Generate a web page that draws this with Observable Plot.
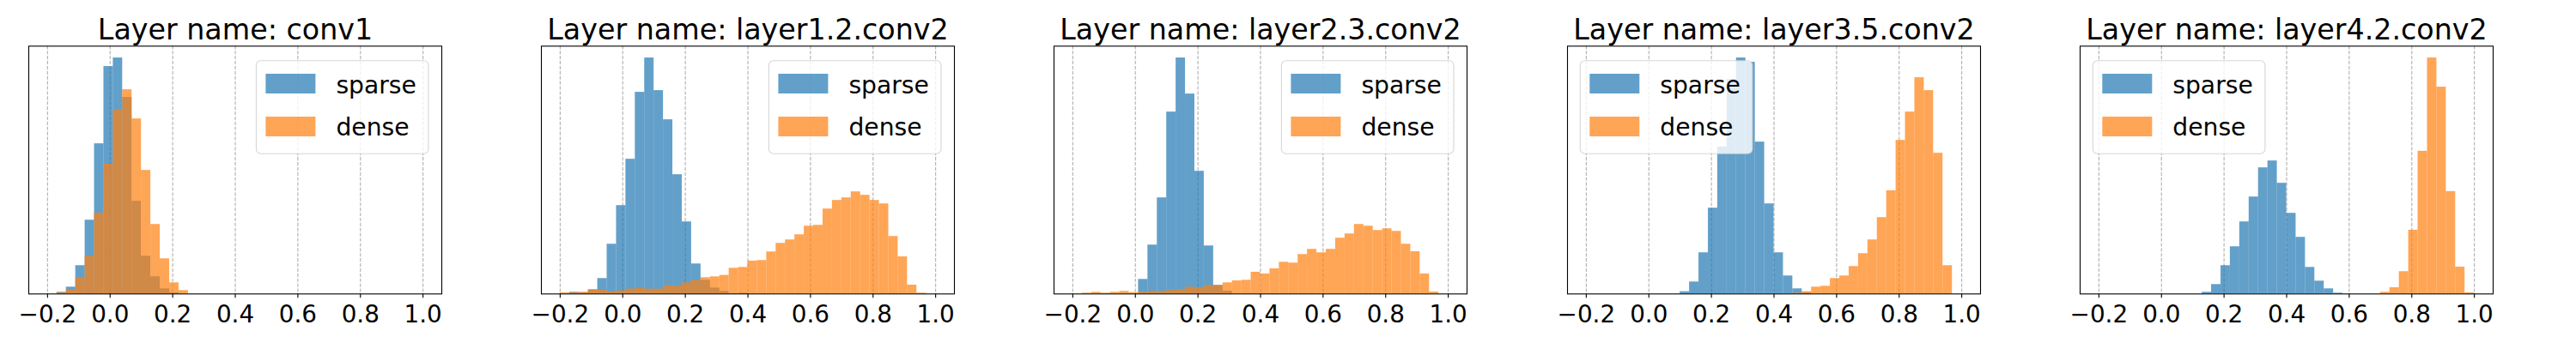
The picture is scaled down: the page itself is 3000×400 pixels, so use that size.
<!DOCTYPE html>
<html><head><meta charset="utf-8">
<script src="https://cdn.jsdelivr.net/npm/d3@7"></script>
<script src="https://cdn.jsdelivr.net/npm/@observablehq/plot@0.6"></script>
<style>
body{margin:0;background:#fff;}
#chart{position:relative;width:3000px;height:400px;font-family:"DejaVu Sans",sans-serif;}
#chart svg{position:absolute;top:0;}
</style></head><body><div id="chart"></div>
<script>
// ---- data ----
const layerNames = ["conv1", "layer1.2.conv2", "layer2.3.conv2", "layer3.5.conv2", "layer4.2.conv2"];
const seriesNames = ["sparse", "dense"];
const seriesColors = ["#1f77b4", "#ff7f0e"];
const xTicks = [-0.2, 0.0, 0.2, 0.4, 0.6, 0.8, 1.0];
const binEdges = [-0.2, -0.17, -0.14, -0.11, -0.08, -0.05, -0.02, 0.01, 0.04, 0.07,
  0.10, 0.13, 0.16, 0.19, 0.22, 0.25, 0.28, 0.31, 0.34, 0.37,
  0.40, 0.43, 0.46, 0.49, 0.52, 0.55, 0.58, 0.61, 0.64, 0.67,
  0.70, 0.73, 0.76, 0.79, 0.82, 0.85, 0.88, 0.91, 0.94, 0.97, 1.0];
const legendCorner = ["right", "right", "right", "left", "left"];

const sparseConv1 = [0,6,24,99,258,525,795,825,687,324, 132,60,18,4,0,0,0,0,0,0, 0,0,0,0,0,0,0,0,0,0, 0,0,0,0,0,0,0,0,0,0];
const denseConv1  = [0,4,16,58,132,283,454,642,714,612, 432,243,123,39,12,0,0,0,0,0, 0,0,0,0,0,0,0,0,0,0, 0,0,0,0,0,0,0,0,0,0];
const sparseL12 = [0,6,4,15,54,174,309,471,705,825, 711,609,417,252,105,48,21,9,1,3, 0,0,0,0,0,0,0,0,0,0, 0,0,0,0,0,0,0,0,0,0];
const denseL12  = [4,4,6,13,13,7,11,17,21,17, 17,29,27,39,48,57,60,65,90,93, 115,117,147,177,189,207,237,240,297,327, 336,357,345,327,315,201,130,31,3,0];
const sparseL23 = [0,0,0,0,0,0,0,51,171,336, 636,825,699,429,168,30,10,0,0,0, 0,0,0,0,0,0,0,0,0,0, 0,0,0,0,0,0,0,0,0,0];
const denseL23  = [0,3,6,3,6,9,5,6,9,9, 12,15,24,21,30,30,39,46,48,76, 70,88,111,108,138,156,144,156,195,210, 243,237,222,228,219,174,148,70,7,0];
const sparseL35 = [0,0,0,0,0,0,0,0,0,0, 8,42,144,300,514,750,825,810,531,315, 144,63,18,4,0,0,0,0,0,0, 0,0,0,0,0,0,0,0,0,0];
const denseL35  = [0,0,0,0,0,0,0,0,0,0, 0,0,0,0,0,0,0,0,0,0, 0,0,3,8,24,27,54,63,96,141, 189,267,361,537,636,756,711,492,99,0];
const sparseL42 = [0,0,0,0,0,0,0,0,0,0, 0,6,33,99,165,252,339,441,465,387, 282,198,93,45,18,3,0,0,0,0, 0,0,0,0,0,0,0,0,0,0];
const denseL42  = [0,0,0,0,0,0,0,0,0,0, 0,0,0,0,0,0,0,0,0,0, 0,0,0,0,0,0,0,0,0,0, 6,22,78,223,499,825,723,358,94,4];

const sparseCounts = [sparseConv1, sparseL12, sparseL23, sparseL35, sparseL42];
const denseCounts = [denseConv1, denseL12, denseL23, denseL35, denseL42];

// ---- layout ----
const frameLefts = [32.7, 630, 1227.3, 1824.7, 2422];
const frameW = 481, mL = 30, mR = 56, mT = 53.3, mB = 57.7, H = 400;
const tickFont = 27.8, titleFont = 33.3, legendFont = 28.2;

function toRows(counts) {
  return counts.map((c, i) => ({x1: binEdges[i], x2: binEdges[i + 1], count: c})).filter(d => d.count > 0);
}

function addLegend(svg, corner) {
  const fx0 = mL, fx1 = mL + frameW;
  const bw = 200.6, bh = 108.6;
  const bx = corner === "left" ? fx0 + 15.3 : fx1 - 15 - bw;
  const by = mT + 17.4;
  const g = d3.select(svg).append("g");
  g.append("rect").attr("x", bx).attr("y", by).attr("width", bw).attr("height", bh)
    .attr("rx", 5.5).attr("fill", "white").attr("fill-opacity", 0.8)
    .attr("stroke", "#cccccc").attr("stroke-opacity", 0.8).attr("stroke-width", 1.1);
  seriesNames.forEach((name, i) => {
    g.append("rect").attr("x", bx + 11).attr("y", by + 15.3 + 50 * i).attr("width", 58).attr("height", 23)
      .attr("fill", seriesColors[i]).attr("fill-opacity", 0.7);
    g.append("text").attr("x", bx + 93).attr("y", by + 38.3 + 49.3 * i).text(name)
      .attr("text-anchor", "start")
      .attr("font-size", legendFont).attr("font-family", "DejaVu Sans").attr("fill", "black");
  });
}

const chart = document.getElementById("chart");
layerNames.forEach((name, k) => {
  const sp = toRows(sparseCounts[k]);
  const de = toRows(denseCounts[k]);
  const ymax = d3.max([...sparseCounts[k], ...denseCounts[k]]);
  const svg = Plot.plot({
    width: mL + frameW + mR, height: H,
    marginLeft: mL, marginRight: mR, marginTop: mT, marginBottom: mB,
    style: {background: "transparent", fontFamily: "DejaVu Sans", overflow: "visible", color: "black"},
    x: {domain: [-0.26, 1.06], label: null},
    y: {domain: [0, ymax * 1.05], axis: null},
    marks: [
      Plot.gridX(xTicks, {stroke: "#b0b0b0", strokeOpacity: 1, strokeWidth: 1.1, strokeDasharray: "4.1,1.8"}),
      Plot.rectY(sp, {x1: "x1", x2: "x2", y: "count", fill: seriesColors[0], fillOpacity: 0.7}),
      Plot.rectY(de, {x1: "x1", x2: "x2", y: "count", fill: seriesColors[1], fillOpacity: 0.7}),
      Plot.frame({stroke: "black", strokeWidth: 1.1}),
      Plot.axisX(xTicks, {tickSize: 4.9, tickPadding: 9, fontSize: tickFont, tickFormat: d3.format(".1f"),
        color: "black", strokeWidth: 1.1, label: null}),
      Plot.text(["Layer name: " + name], {text: d => d, frameAnchor: "top", dy: -8.3, lineAnchor: "bottom",
        fontSize: titleFont, fill: "black"})
    ]
  });
  svg.style.left = (frameLefts[k] - mL) + "px";
  addLegend(svg, legendCorner[k]);
  chart.appendChild(svg);
});
</script></body></html>
